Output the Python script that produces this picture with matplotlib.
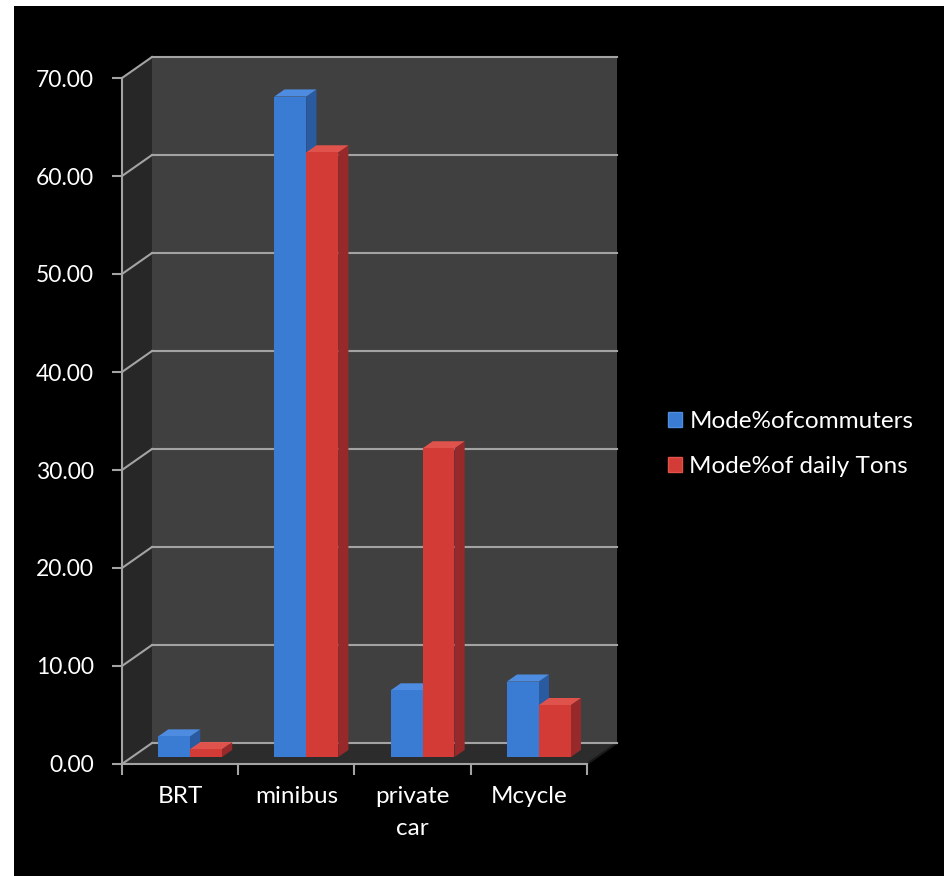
import matplotlib
matplotlib.use("Agg")
import matplotlib.pyplot as plt
from matplotlib.patches import Polygon, Rectangle, Patch
from matplotlib.ticker import FixedLocator, FormatStrFormatter

categories = ["BRT", "minibus", "private\ncar", "Mcycle"]
series_names = ["Mode%ofcommuters", "Mode%of daily Tons"]
commuters = [2.1, 67.4, 6.8, 7.7]
tons = [0.8, 61.7, 31.5, 5.3]
yticks = [0, 10, 20, 30, 40, 50, 60, 70]

front_cols = ["#3a7bd3", "#d23b36"]
side_cols = ["#2a5aa0", "#98292a"]
top_cols = ["#4d8ce0", "#e0524c"]

W, H, DPI = 945, 876, 100
fig = plt.figure(figsize=(W / DPI, H / DPI), dpi=DPI, facecolor="white")
fig.patches.append(Rectangle((14 / W, 0), 1 - 14 / W, 1 - 6 / H, transform=fig.transFigure,
                             facecolor="black", edgecolor="none", zorder=-10))

left, right, top, bottom = 122, 587, 78, 764
ax = fig.add_axes([left / W, 1 - bottom / H, (right - left) / W, (bottom - top) / H])
ax.set_facecolor("none")
ax.set_xlim(-0.5, 3.5)
ax.set_ylim(0, 70)

# depth offsets in data units (30 px right, 21 px up for full depth)
DX = 30 / ((right - left) / 4)
DY = 21 / ((bottom - top) / 70)

def P(x, y, d):
    return (x + d * DX, y + d * DY)

wall_back = "#404040"
wall_left = "#272727"
floor_c = "#2c2c2c"
grid_c = "#a3a3a3"

x0, x1, y1 = -0.5, 3.5, 70
ax.add_patch(Polygon([P(x0, 0, 1), P(x1, 0, 1), P(x1, y1, 1), P(x0, y1, 1)], closed=True,
                     facecolor=wall_back, edgecolor="none", zorder=0, clip_on=False))
ax.add_patch(Polygon([P(x0, 0, 0), P(x0, 0, 1), P(x0, y1, 1), P(x0, y1, 0)], closed=True,
                     facecolor=wall_left, edgecolor="none", zorder=0, clip_on=False))
ax.add_patch(Polygon([P(x0, 0, 0), P(x1, 0, 0), P(x1, 0, 1), P(x0, 0, 1)], closed=True,
                     facecolor=floor_c, edgecolor="none", zorder=0.5, clip_on=False))
# right floor edge (dark)
ax.plot(*zip(P(x1, 0, 0), P(x1, 0, 1)), color="#1a1a1a", lw=1.5, zorder=0.6, clip_on=False)

for v in yticks:
    a, b = P(x0, v, 1), P(x1, v, 1)
    ax.plot([a[0], b[0]], [a[1], b[1]], color=grid_c, lw=1.5, zorder=1, clip_on=False)
    c, d = P(x0, v, 0), P(x0, v, 1)
    ax.plot([c[0], d[0]], [c[1], d[1]], color=grid_c, lw=1.5, zorder=1, clip_on=False)

bw = 0.275
d0, d1 = 0.33, 0.67
for s, vals in enumerate([commuters, tons]):
    for i, v in enumerate(vals):
        xl = i - bw + s * bw
        xr = xl + bw
        # side face
        ax.add_patch(Polygon([P(xr, 0, d0), P(xr, 0, d1), P(xr, v, d1), P(xr, v, d0)], closed=True,
                             facecolor=side_cols[s], edgecolor="none", zorder=2 + s * 0.1, clip_on=False))
        # top face
        ax.add_patch(Polygon([P(xl, v, d0), P(xr, v, d0), P(xr, v, d1), P(xl, v, d1)], closed=True,
                             facecolor=top_cols[s], edgecolor="none", zorder=2 + s * 0.1, clip_on=False))
    xs = [i - bw + s * bw + bw / 2 + d0 * DX for i in range(len(vals))]
    ax.bar(xs, vals, width=bw, bottom=d0 * DY, color=front_cols[s], zorder=2.05 + s * 0.1,
           clip_on=False, linewidth=0)

for sp in ["top", "right"]:
    ax.spines[sp].set_visible(False)
for sp in ["left", "bottom"]:
    ax.spines[sp].set_color(grid_c)
    ax.spines[sp].set_linewidth(1.5)
    ax.spines[sp].set_zorder(3)

font = "Lato"
ax.set_yticks(yticks)
ax.yaxis.set_major_formatter(FormatStrFormatter("%.2f"))
ax.tick_params(axis="y", colors=grid_c, length=7, width=1.5, pad=13, labelsize=16.5,
               labelcolor="white", direction="out")
ax.set_xticks(range(len(categories)))
ax.set_xticklabels(categories, linespacing=1.65)
ax.xaxis.set_minor_locator(FixedLocator([-0.5, 0.5, 1.5, 2.5, 3.5]))
ax.tick_params(axis="x", which="major", length=0, pad=16, labelsize=17.5, labelcolor="white")
ax.tick_params(axis="x", which="minor", length=8, width=1.5, colors=grid_c, direction="out")
for lab in ax.get_xticklabels() + ax.get_yticklabels():
    lab.set_family(font)

handles = [Patch(facecolor=front_cols[0], edgecolor=top_cols[0]),
           Patch(facecolor=front_cols[1], edgecolor=top_cols[1])]
leg = fig.legend(handles, series_names, loc="center left",
                 bbox_to_anchor=(646 / W, 1 - 444 / H), frameon=False,
                 handlelength=0.58, handleheight=0.58, handletextpad=0.3,
                 labelspacing=1.0, prop={"family": font, "size": 17.5})
for t in leg.get_texts():
    t.set_color("white")

fig.savefig("out.png", dpi=DPI, facecolor=fig.get_facecolor())
